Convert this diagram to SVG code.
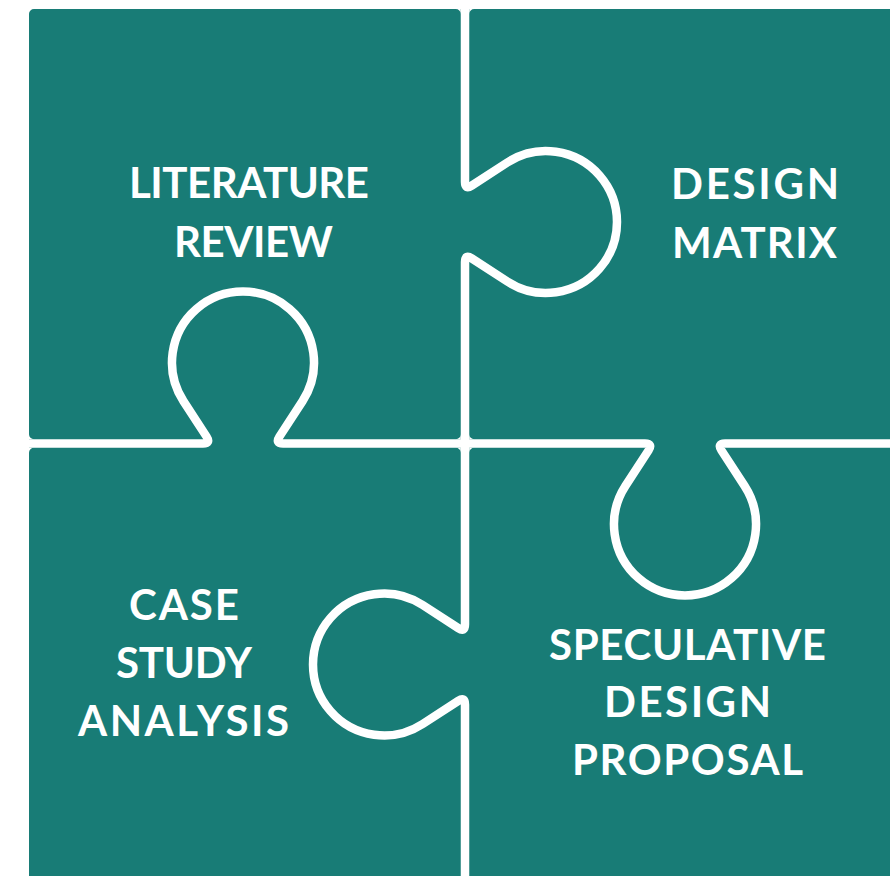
<svg xmlns="http://www.w3.org/2000/svg" width="890" height="876" viewBox="0 0 890 876">
<style>
.piece{fill:#187c76}
.cut{fill:none;stroke:#fff;stroke-width:8.5;stroke-linejoin:round}
.fillet{fill:#fff}
.label{font-family:Lato,"Liberation Sans",sans-serif;font-weight:700;font-size:42px;fill:#fff;text-anchor:middle}
</style>
<rect width="890" height="876" fill="#fff"/>
<g id="piece-literature-review">
<path class="piece" d="M34,9 L465,9 L465,182 Q465,190 471.71,185.64 L507.33,162.45 A71,71 0 1 1 507.33,281.55 L471.71,258.36 Q465,254 465,262 L465,443.5 L283,443.5 Q275,443.5 279.36,436.79 L302.55,401.17 A71,71 0 1 0 183.45,401.17 L206.64,436.79 Q211,443.5 203,443.5 L29,443.5 L29,14 A5,5 0 0 1 34,9 Z"/>
<text class="label" x="249" y="198" textLength="240" lengthAdjust="spacing">LITERATURE</text>
<text class="label" x="253.5" y="257" textLength="159" lengthAdjust="spacing">REVIEW</text>
</g>
<g id="piece-design-matrix">
<path class="piece" d="M465,9 L900,9 L900,443.5 L725,443.5 Q717,443.5 721.36,450.21 L744.55,485.83 A71,71 0 1 1 625.45,485.83 L648.64,450.21 Q653,443.5 645,443.5 L465,443.5 L465,262 Q465,254 471.71,258.36 L507.33,281.55 A71,71 0 1 0 507.33,162.45 L471.71,185.64 Q465,190 465,182 Z"/>
<text class="label" x="755" y="199" textLength="168" lengthAdjust="spacing">DESIGN</text>
<text class="label" x="754.5" y="258" textLength="165" lengthAdjust="spacing">MATRIX</text>
</g>
<g id="piece-case-study-analysis">
<path class="piece" d="M29,443.5 L203,443.5 Q211,443.5 206.64,436.79 L183.45,401.17 A71,71 0 1 1 302.55,401.17 L279.36,436.79 Q275,443.5 283,443.5 L465,443.5 L465,624.5 Q465,632.5 458.29,628.14 L422.67,604.95 A71,71 0 1 0 422.67,724.05 L458.29,700.86 Q465,696.5 465,704.5 L465,900 L29,900 Z"/>
<text class="label" x="184" y="620" textLength="110" lengthAdjust="spacing">CASE</text>
<text class="label" x="184" y="678" textLength="136" lengthAdjust="spacing">STUDY</text>
<text class="label" x="183.5" y="736" textLength="211" lengthAdjust="spacing">ANALYSIS</text>
</g>
<g id="piece-speculative-design-proposal">
<path class="piece" d="M465,443.5 L645,443.5 Q653,443.5 648.64,450.21 L625.45,485.83 A71,71 0 1 0 744.55,485.83 L721.36,450.21 Q717,443.5 725,443.5 L900,443.5 L900,900 L465,900 L465,704.5 Q465,696.5 458.29,700.86 L422.67,724.05 A71,71 0 1 1 422.67,604.95 L458.29,628.14 Q465,632.5 465,624.5 Z"/>
<text class="label" x="687.5" y="660" textLength="277" lengthAdjust="spacing">SPECULATIVE</text>
<text class="label" x="687.5" y="717" textLength="167" lengthAdjust="spacing">DESIGN</text>
<text class="label" x="687.5" y="775" textLength="231" lengthAdjust="spacing">PROPOSAL</text>
</g>
<g id="connectors">
<path class="cut" d="M465,0 L465,182 Q465,190 471.71,185.64 L507.33,162.45 A71,71 0 1 1 507.33,281.55 L471.71,258.36 Q465,254 465,262 L465,624.5 Q465,632.5 458.29,628.14 L422.67,604.95 A71,71 0 1 0 422.67,724.05 L458.29,700.86 Q465,696.5 465,704.5 L465,880"/>
<path class="cut" d="M20,443.5 L203,443.5 Q211,443.5 206.64,436.79 L183.45,401.17 A71,71 0 1 1 302.55,401.17 L279.36,436.79 Q275,443.5 283,443.5 L645,443.5 Q653,443.5 648.64,450.21 L625.45,485.83 A71,71 0 1 0 744.55,485.83 L721.36,450.21 Q717,443.5 725,443.5 L895,443.5"/>
<path class="fillet" d="M460.75,9 L455.75,9 A5,5 0 0 1 460.75,14 Z M469.25,9 L474.25,9 A5,5 0 0 0 469.25,14 Z M29,439.25 L34,439.25 A5,5 0 0 1 29,434.25 Z M29,447.75 L34,447.75 A5,5 0 0 0 29,452.75 Z M460.75,439.25 L455.75,439.25 A5,5 0 0 0 460.75,434.25 Z M469.25,439.25 L474.25,439.25 A5,5 0 0 1 469.25,434.25 Z M460.75,447.75 L455.75,447.75 A5,5 0 0 1 460.75,452.75 Z M469.25,447.75 L474.25,447.75 A5,5 0 0 0 469.25,452.75 Z"/>
</g>
</svg>
